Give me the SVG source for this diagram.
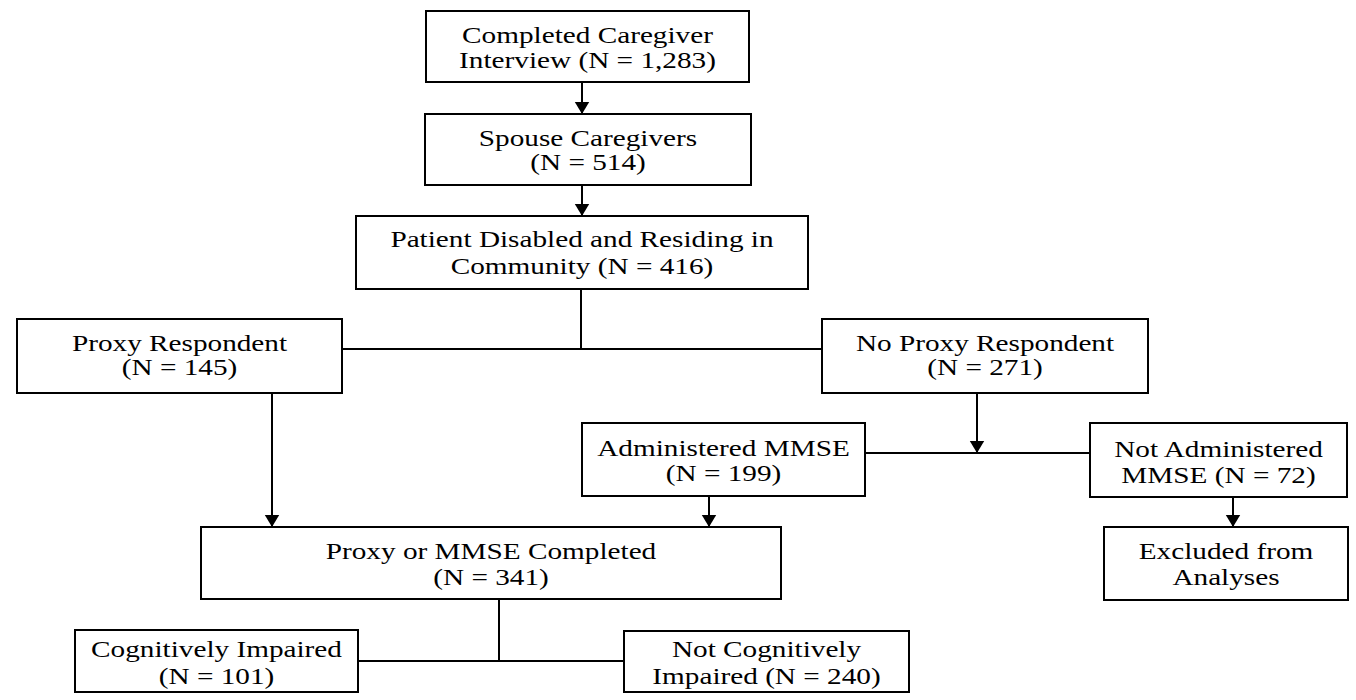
<svg xmlns="http://www.w3.org/2000/svg" width="1356" height="700" viewBox="0 0 1356 700">
<style>
.box{fill:#fff;stroke:#000;stroke-width:2}
.ln{fill:none;stroke:#000;stroke-width:2}
text{font-family:"Liberation Serif","Times New Roman",serif;font-size:22.5px;fill:#000;text-anchor:middle}
</style>
<defs>
<marker id="ah" markerUnits="userSpaceOnUse" markerWidth="13" markerHeight="16" refX="12.5" refY="8" orient="auto" viewBox="0 0 13 16">
<path d="M0,0.5 L12.5,8 L0,15.5 z" fill="#000"/>
</marker>
</defs>
<rect width="1356" height="700" fill="#fff"/>
<g id="connectors">
<line class="ln" x1="582" y1="82" x2="582" y2="114" marker-end="url(#ah)"/>
<line class="ln" x1="582" y1="185" x2="582" y2="216" marker-end="url(#ah)"/>
<line class="ln" x1="581" y1="289" x2="581" y2="349"/>
<line class="ln" x1="342" y1="349" x2="822" y2="349"/>
<line class="ln" x1="272" y1="393" x2="272" y2="527" marker-end="url(#ah)"/>
<line class="ln" x1="977" y1="393" x2="977" y2="453" marker-end="url(#ah)"/>
<line class="ln" x1="865" y1="453" x2="1090" y2="453"/>
<line class="ln" x1="709" y1="496" x2="709" y2="527" marker-end="url(#ah)"/>
<line class="ln" x1="1233" y1="497" x2="1233" y2="527" marker-end="url(#ah)"/>
<line class="ln" x1="499" y1="599" x2="499" y2="661"/>
<line class="ln" x1="358" y1="661" x2="624" y2="661"/>
</g>
<g id="n1">
<rect class="box" x="426" y="11" width="323" height="71"/>
<text transform="translate(587.5 0) scale(1.3 1)"><tspan x="0" y="43.5">Completed Caregiver</tspan><tspan x="0" y="68.5">Interview (N = 1,283)</tspan></text>
</g>
<g id="n2">
<rect class="box" x="425" y="114" width="326" height="71"/>
<text transform="translate(588 0) scale(1.3 1)"><tspan x="0" y="146">Spouse Caregivers</tspan><tspan x="0" y="170.5">(N = 514)</tspan></text>
</g>
<g id="n3">
<rect class="box" x="356" y="216" width="452" height="73"/>
<text transform="translate(582 0) scale(1.3 1)"><tspan x="0" y="247.5">Patient Disabled and Residing in</tspan><tspan x="0" y="274.5">Community (N = 416)</tspan></text>
</g>
<g id="n4">
<rect class="box" x="17" y="319" width="325" height="74"/>
<text transform="translate(179.5 0) scale(1.3 1)"><tspan x="0" y="351.5">Proxy Respondent</tspan><tspan x="0" y="375.5">(N = 145)</tspan></text>
</g>
<g id="n5">
<rect class="box" x="822" y="319" width="326" height="74"/>
<text transform="translate(985 0) scale(1.3 1)"><tspan x="0" y="351.5">No Proxy Respondent</tspan><tspan x="0" y="375.5">(N = 271)</tspan></text>
</g>
<g id="n6">
<rect class="box" x="582" y="423" width="283" height="73"/>
<text transform="translate(723.5 0) scale(1.3 1)"><tspan x="0" y="456">Administered MMSE</tspan><tspan x="0" y="481">(N = 199)</tspan></text>
</g>
<g id="n7">
<rect class="box" x="1090" y="423" width="257" height="74"/>
<text transform="translate(1218.5 0) scale(1.3 1)"><tspan x="0" y="456.5">Not Administered</tspan><tspan x="0" y="483">MMSE (N = 72)</tspan></text>
</g>
<g id="n8">
<rect class="box" x="201" y="527" width="580" height="72"/>
<text transform="translate(491 0) scale(1.3 1)"><tspan x="0" y="559">Proxy or MMSE Completed</tspan><tspan x="0" y="585.5">(N = 341)</tspan></text>
</g>
<g id="n9">
<rect class="box" x="1104" y="527" width="244" height="73"/>
<text transform="translate(1226 0) scale(1.3 1)"><tspan x="0" y="559">Excluded from</tspan><tspan x="0" y="585.5">Analyses</tspan></text>
</g>
<g id="n10">
<rect class="box" x="75" y="630" width="283" height="62"/>
<text transform="translate(216.5 0) scale(1.3 1)"><tspan x="0" y="657.5">Cognitively Impaired</tspan><tspan x="0" y="684">(N = 101)</tspan></text>
</g>
<g id="n11">
<rect class="box" x="624" y="631" width="285" height="61"/>
<text transform="translate(766.5 0) scale(1.3 1)"><tspan x="0" y="657.5">Not Cognitively</tspan><tspan x="0" y="684">Impaired (N = 240)</tspan></text>
</g>
</svg>
